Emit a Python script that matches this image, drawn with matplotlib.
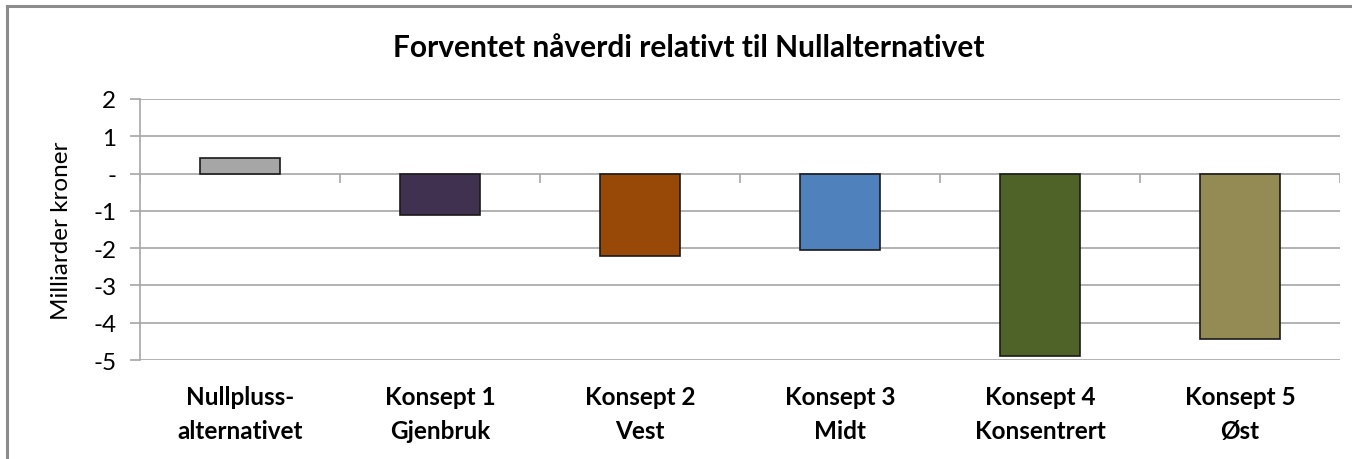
import numpy as np
import matplotlib
matplotlib.use("Agg")
import matplotlib.pyplot as plt
import matplotlib.lines as mlines

plt.rcParams['font.family'] = ['Lato', 'DejaVu Sans']

categories = ["Nullpluss-\nalternativet", "Konsept 1\nGjenbruk", "Konsept 2\nVest",
              "Konsept 3\nMidt", "Konsept 4\nKonsentrert", "Konsept 5\nØst"]
values = [0.42, -1.1, -2.2, -2.05, -4.9, -4.43]
colors = ["#A6A6A6", "#403151", "#984807", "#4F81BD", "#4F6228", "#948A54"]
yticks = [2, 1, 0, -1, -2, -3, -4, -5]
ytick_labels = ["2", "1", "-", "-1", "-2", "-3", "-4", "-5"]

fig = plt.figure(figsize=(13.52, 4.6), dpi=100)
ax = fig.add_axes([140 / 1352, 1 - 361 / 460, 1200 / 1352, 261 / 460])

x = np.arange(len(categories))
ax.bar(x, values, width=0.4, color=colors, edgecolor="#1a1a1a", linewidth=1.2, zorder=3)

ax.set_xlim(-0.5, len(categories) - 0.5)
ax.set_ylim(min(yticks), max(yticks))

# gridlines
for t in yticks:
    ax.axhline(t, color="#a6a6a6", linewidth=1.2, zorder=1)
# category boundary ticks on zero line
ax.vlines(np.arange(len(categories) + 1) - 0.5, -0.24, 0, color="#a6a6a6", linewidth=1.2, zorder=2)

for s in ["top", "right", "bottom"]:
    ax.spines[s].set_visible(False)
ax.spines["left"].set_color("#a6a6a6")
ax.spines["left"].set_linewidth(1.2)

ax.set_yticks(yticks)
ax.set_yticklabels(ytick_labels)
ax.tick_params(axis="y", length=7, width=1.2, color="#a6a6a6", labelsize=17.5, pad=10)
ax.set_xticks(x)
ax.set_xticklabels(categories, fontweight="bold", linespacing=1.6)
ax.tick_params(axis="x", length=0, labelsize=17.5, pad=18)

ax.set_ylabel("Milliarder kroner", fontsize=17.5, labelpad=15)
# title is centred on the whole chart area, not the plot area
fig.text(689 / 1352, 1 - 48 / 460, "Forventet nåverdi relativt til Nullalternativet",
         fontsize=21.5, fontweight="bold", ha="center", va="center")

# outer chart border (left and top)
fig.add_artist(mlines.Line2D([7 / 1352, 7 / 1352], [0, 1 - 7 / 460], color="#8c8c8c", linewidth=2.2))
fig.add_artist(mlines.Line2D([7 / 1352, 1], [1 - 7 / 460, 1 - 7 / 460], color="#8c8c8c", linewidth=2.2))

fig.savefig("out.png", dpi=100)
